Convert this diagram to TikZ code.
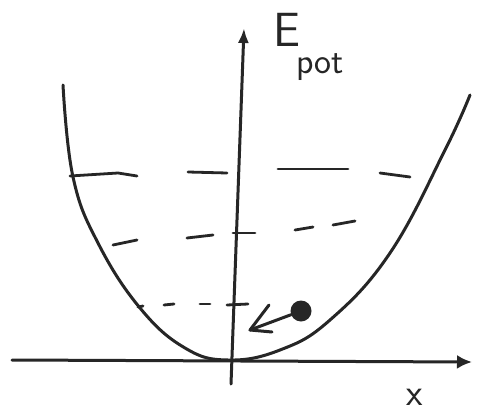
\documentclass[tikz,border=0pt]{standalone}
\usetikzlibrary{arrows.meta}
\begin{document}
\begin{tikzpicture}[x=1pt,y=-1pt,
  pen/.style={line width=3pt,line cap=round,line join=round,black!85},
  dashpen/.style={line width=2.8pt,line cap=round,black!85},
  lbl/.style={inner sep=0pt,anchor=base,font=\sffamily,black!85}]
\useasboundingbox[fill=white] (0,0) rectangle (489,412);
% axes
\coordinate (yb) at (231,384);
\coordinate (yt) at (244,28);
\coordinate (xl) at (12,360);
\coordinate (xr) at (472,362);
\draw[pen,-{Latex[length=15pt,width=11pt]}] (yb) -- (yt);
\draw[pen,-{Latex[length=15pt,width=14pt]}] (xl) -- (xr);
\node[lbl,font=\sffamily\fontsize{48}{48}\selectfont] (E) at (287,47) {E};
\node[lbl,font=\sffamily\fontsize{36}{36}\selectfont] (pot) at (320,73) {pot};
\node[lbl,font=\sffamily\fontsize{38}{38}\selectfont] (xlab) at (415,405) {x};
% parabola
\draw[pen] plot[smooth,tension=0.7] coordinates {(63,85) (73,177) (98,243) (140,308) (185,348) (228,360) (280,350) (330,320) (390,253) (445,150) (470,95)};
% top level
\draw[dashpen] (70,176) -- (118,173) -- (137,176);
\draw[dashpen] (188,172) -- (227,173);
\draw[dashpen] (278,169) -- (348,169);
\draw[dashpen] (380,173) -- (410,177);
% middle level
\draw[dashpen] (113,245) -- (137,240);
\draw[dashpen] (187,238) -- (213,235);
\draw[dashpen] (233,233) -- (255,233);
\draw[dashpen] (295,230) -- (313,227);
\draw[dashpen] (333,225) -- (355,221);
% lower level
\draw[dashpen] (138,307) -- (143,306);
\draw[dashpen] (164,305) -- (174,304);
\draw[dashpen] (200,304) -- (210,304);
\draw[dashpen] (227,305) -- (248,304);
% ball and arrow
\node[circle,fill=black!85,minimum size=21pt,inner sep=0pt] (ball) at (301,311) {};
\coordinate (tip) at (250,330);
\draw[pen] (ball) -- (tip);
\draw[pen] (269,305) -- (tip) -- (272,332);
\end{tikzpicture}
\end{document}
